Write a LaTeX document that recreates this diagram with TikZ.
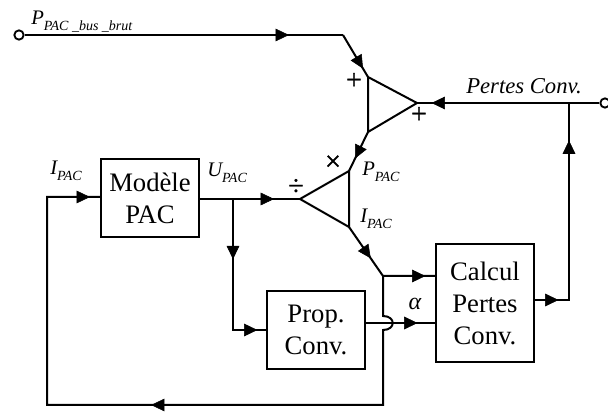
\documentclass[tikz,border=0pt]{standalone}
\usepackage{fontspec}
\setmainfont{Liberation Serif}
\usetikzlibrary{arrows.meta,decorations.markings}

\tikzset{
  wire/.style={line width=1.5pt,line join=miter},
  tipat/.style={postaction={decorate,decoration={markings,
      mark=at position #1 with {\arrow{Triangle[length=10pt,width=9.5pt]}}}}},
  blockbox/.style={draw,line width=1.5pt,align=center,
      font=\fontsize{20}{24}\selectfont,minimum width=73.5pt,inner sep=0pt},
  port/.style={circle,draw,fill=white,line width=1.4pt,minimum size=7pt,inner sep=0pt},
  sig/.style={font=\fontsize{15.5}{15.5}\selectfont\itshape,inner sep=0pt},
  sgn/.style={font=\fontsize{21}{21}\selectfont\addfontfeature{FakeBold=1.2},inner sep=0pt},
}
% variable with a small italic subscript
\newcommand\sigsub[2]{#1\raisebox{-4pt}{\fontsize{10.5}{10.5}\selectfont #2}}

\begin{document}
\begin{tikzpicture}[x=0.75pt,y=-0.75pt]
\useasboundingbox (0,0) rectangle (608,417);

% blocks
\node[blockbox,minimum height=58.5pt] (mod)  at (150,198) {Modèle\\PAC};
\node[blockbox,minimum height=58.5pt] (prop) at (316,330) {Prop.\\Conv.};
\node[blockbox,minimum height=88.5pt] (calc) at (485,303) {Calcul\\Pertes\\Conv.};

% summing and dividing junctions
\coordinate (sumT) at (368,77);
\coordinate (sumB) at (368,132);
\coordinate (sumA) at (417,103);
\coordinate (divA) at (300,199);
\coordinate (divT) at (349,171);
\coordinate (divB) at (349,227);
\draw[wire] (sumT) -- (sumA) -- (sumB) -- cycle;
\draw[wire] (divA) -- (divT) -- (divB) -- cycle;

% routing points
\coordinate (c1)   at (343,35);
\coordinate (jU)   at (233,199);
\coordinate (cU)   at (233,330);
\coordinate (jI)   at (383,276);
\coordinate (hopT) at (383,316);
\coordinate (hopB) at (383,330);
\coordinate (bR)   at (383,405);
\coordinate (bL)   at (47,405);
\coordinate (lT)   at (47,197);
\coordinate (jR)   at (569,103);
\coordinate (cR)   at (569,300);
\coordinate (pout) at (365,323);
\coordinate (cin1) at (436,276);
\coordinate (cin2) at (436,323);
\coordinate (cout) at (534,300);

% connectors
\draw[wire] (c1) -- (sumT);
\draw[wire] (sumB) -- (divT);
\draw[wire] (mod.east |- divA) -- (divA);
\draw[wire] (jU) -- (cU) -- (prop.west |- cU);
\draw[wire] (divB) -- (jI) -- (cin1);
\draw[wire] (jI) -- (hopT) .. controls (396,316) and (396,330) .. (hopB) -- (bR) -- (bL) -- (lT) -- (mod.west |- lT);
\draw[wire] (pout) -- (cin2);
\draw[wire] (cout) -- (cR) -- (jR);

% ports (drawn after the lines so they stay hollow)
\node[port] (in)  at (19,35) {};
\node[port] (out) at (605,103) {};
\draw[wire] (in) -- (c1);
\draw[wire] (out) -- (sumA);

% arrowheads
\path[tipat=0.83] (in) -- (c1);
\path[tipat=0.8]  (c1) -- (sumT);
\path[tipat=0.92] (out) -- (sumA);
\path[tipat=0.68] (sumB) -- (divT);
\path[tipat=0.74] (mod.east |- divA) -- (divA);
\path[tipat=0.46] (jU) -- (cU);
\path[tipat=0.74] (cU) -- (prop.west |- cU);
\path[tipat=0.64] (divB) -- (jI);
\path[tipat=0.8]  (jI) -- (cin1);
\path[tipat=0.74] (pout) -- (cin2);
\path[tipat=0.7]  (cout) -- (cR);
\path[tipat=0.81] (cR) -- (jR);
\path[tipat=0.69] (bR) -- (bL);
\path[tipat=0.81] (lT) -- (mod.west |- lT);

% labels
\node[sig,anchor=base west] (lbin) at (31,25) {\sigsub{P}{PAC \_bus \_brut}};
\node[sgn] (p1) at (354,81) {+};
\node[sgn] (p2) at (419,115) {+};
\node[font=\fontsize{17}{17}\selectfont\itshape,inner sep=0pt,anchor=base] (lpc) at (524,94) {Pertes Conv.};
\node[sgn] (mul) at (333,163) {×};
\node[sgn] (dv)  at (296,187) {÷};
\node[sig,anchor=base west] (lpp) at (362,176) {\sigsub{P}{PAC}};
\node[sig,anchor=base west] (lip) at (360,223) {\sigsub{I}{PAC}};
\node[sig,anchor=base west] (lil) at (50,175)  {\sigsub{I}{PAC}};
\node[sig,anchor=base west] (lu)  at (207,177) {\sigsub{U}{PAC}};
\node[font=\fontsize{18}{18}\selectfont\itshape,inner sep=0pt] (la) at (415,304) {α};
\end{tikzpicture}
\end{document}
